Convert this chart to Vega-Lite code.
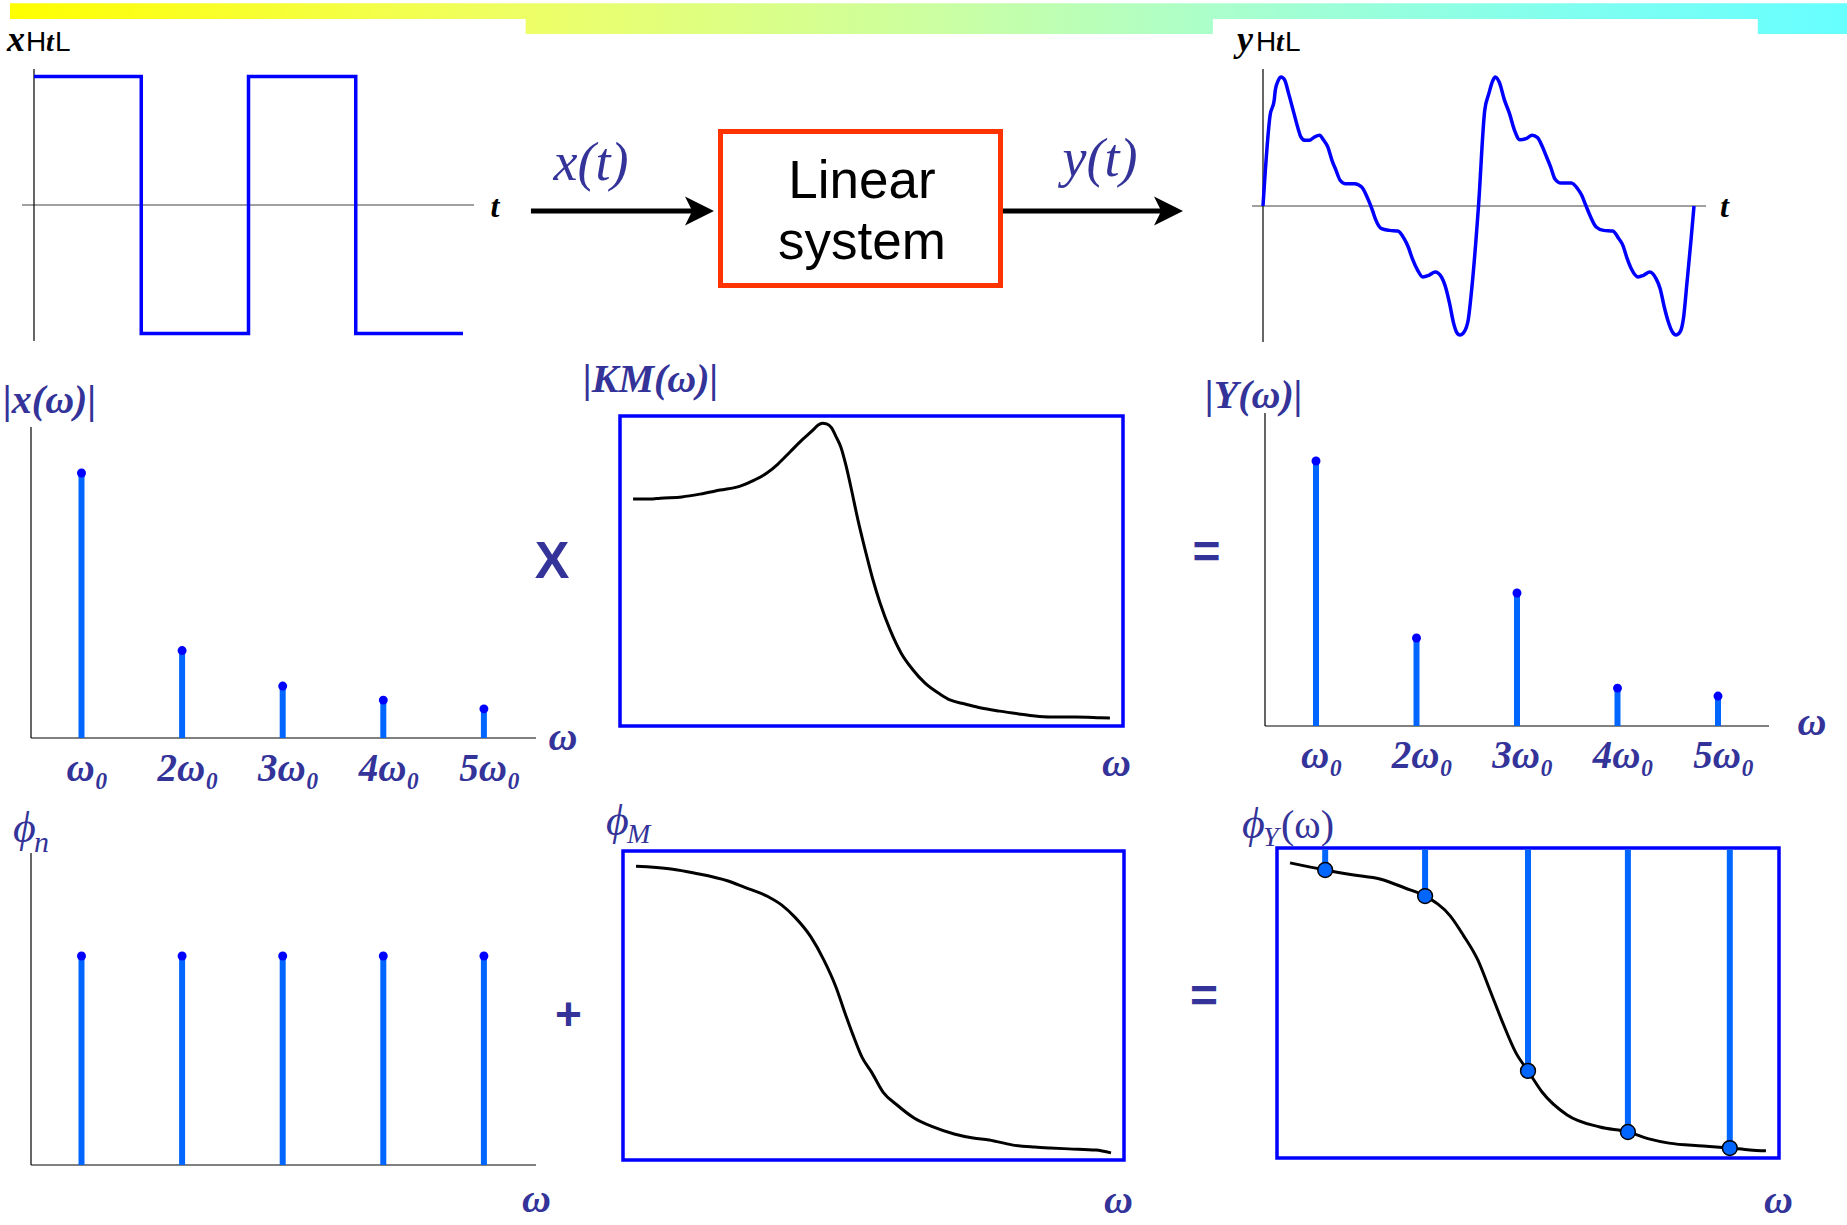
{
  "$schema": "https://vega.github.io/schema/vega-lite/v6.json",
  "width": 1847,
  "height": 1225,
  "autosize": {"type": "none"},
  "padding": 0,
  "background": "white",
  "config": {"view": {"stroke": null}, "axis": {"disable": true}, "legend": {"disable": true}},
  "resolve": {"scale": {"x": "independent", "y": "independent"}},
  "layer": [
    {
      "description": "header band",
      "data": {"values": [{"start": 0.0054, "end": 1}]},
      "layer": [
        {
          "mark": {"type": "rect", "fill": {"gradient": "linear", "x1": 0, "y1": 0, "x2": 1, "y2": 0, "stops": [
            {"offset": 0, "color": "#ffff00"}, {"offset": 0.28, "color": "#eeff66"}, {"offset": 0.5, "color": "#ccffa0"},
            {"offset": 0.66, "color": "#aaffcc"}, {"offset": 0.85, "color": "#80fff0"}, {"offset": 1, "color": "#66ffff"}]}},
          "encoding": {
            "x": {"field": "start", "type": "quantitative", "scale": {"domain": [0, 1], "nice": false, "zero": false}},
            "x2": {"field": "end"},
            "y": {"datum": 0, "type": "quantitative", "scale": {"domain": [-38.795, 1.1075], "nice": false, "zero": false}},
            "y2": {"datum": 1}
          }
        },
        {
          "data": {"values": [{"start": 0.0054, "end": 0.2846}, {"start": 0.6567, "end": 0.9517}]},
          "mark": {"type": "rect", "fill": "#ffffff"},
          "encoding": {
            "x": {"field": "start", "type": "quantitative", "scale": {"domain": [0, 1], "nice": false, "zero": false}},
            "x2": {"field": "end"},
            "y": {"datum": -0.05, "type": "quantitative", "scale": {"domain": [-38.795, 1.1075], "nice": false, "zero": false}},
            "y2": {"datum": 0.4886}
          }
        }
      ]
    },
    {
      "description": "input square wave x(t)",
      "layer": [
        {
          "data": {"values": [{}]},
          "mark": {"type": "rule", "color": "#808080", "strokeWidth": 1.5},
          "encoding": {
            "x": {"datum": -0.112, "type": "quantitative", "scale": {"domain": [-0.31702, 16.9044], "nice": false, "zero": false}},
            "x2": {"datum": 4.103},
            "y": {"datum": 0, "type": "quantitative", "scale": {"domain": [-7.9377, 1.5953], "nice": false, "zero": false}}
          }
        },
        {
          "data": {"values": [{}]},
          "mark": {"type": "rule", "color": "#000000", "strokeWidth": 1.2},
          "encoding": {
            "x": {"datum": 0, "type": "quantitative", "scale": {"domain": [-0.31702, 16.9044], "nice": false, "zero": false}},
            "y": {"datum": -1.058, "type": "quantitative", "scale": {"domain": [-7.9377, 1.5953], "nice": false, "zero": false}},
            "y2": {"datum": 1.058}
          }
        },
        {
          "data": {"values": [{"t": 0, "x": 1}, {"t": 1, "x": -1}, {"t": 2, "x": 1}, {"t": 3, "x": -1}, {"t": 4, "x": -1}]},
          "mark": {"type": "line", "interpolate": "step-after", "color": "#0000ff", "strokeWidth": 3.5, "strokeJoin": "miter"},
          "encoding": {
            "x": {"field": "t", "type": "quantitative", "scale": {"domain": [-0.31702, 16.9044], "nice": false, "zero": false}},
            "y": {"field": "x", "type": "quantitative", "scale": {"domain": [-7.9377, 1.5953], "nice": false, "zero": false}}
          }
        },
        {
          "data": {"values": [{}]},
          "mark": {"type": "text", "text": "t", "font": "Liberation Serif", "fontStyle": "italic", "fontWeight": "bold", "fontSize": 32, "color": "#000000", "align": "center", "baseline": "alphabetic"},
          "encoding": {
            "x": {"datum": 4.298, "type": "quantitative", "scale": {"domain": [-0.31702, 16.9044], "nice": false, "zero": false}},
            "y": {"datum": -0.0934, "type": "quantitative", "scale": {"domain": [-7.9377, 1.5953], "nice": false, "zero": false}}
          }
        },
        {
          "data": {"values": [{}]},
          "layer": [
            {"mark": {"type": "text", "text": "x", "font": "Liberation Serif", "fontStyle": "italic", "fontWeight": "bold", "fontSize": 36, "color": "#000000", "align": "left", "baseline": "alphabetic"}},
            {"mark": {"type": "text", "text": "H", "font": "Liberation Sans", "fontSize": 28, "color": "#000000", "align": "left", "baseline": "alphabetic", "dx": 19}},
            {"mark": {"type": "text", "text": "t", "font": "Liberation Serif", "fontStyle": "italic", "fontWeight": "bold", "fontSize": 28, "color": "#000000", "align": "left", "baseline": "alphabetic", "dx": 39}},
            {"mark": {"type": "text", "text": "L", "font": "Liberation Sans", "fontSize": 28, "color": "#000000", "align": "left", "baseline": "alphabetic", "dx": 48}}
          ],
          "encoding": {
            "x": {"datum": -0.2517, "type": "quantitative", "scale": {"domain": [-0.31702, 16.9044], "nice": false, "zero": false}},
            "y": {"datum": 1.1984, "type": "quantitative", "scale": {"domain": [-7.9377, 1.5953], "nice": false, "zero": false}}
          }
        }
      ]
    },
    {
      "description": "block diagram",
      "layer": [
        {
          "data": {"values": [{}]},
          "mark": {"type": "rect", "fill": "#ffffff", "stroke": "#ff3300", "strokeWidth": 5},
          "encoding": {
            "x": {"datum": 0, "type": "quantitative", "scale": {"domain": [-2.5732, 4.0232], "nice": false, "zero": false}},
            "x2": {"datum": 1},
            "y": {"datum": 0, "type": "quantitative", "scale": {"domain": [-6.1006, 1.8539], "nice": false, "zero": false}},
            "y2": {"datum": 1}
          }
        },
        {
          "data": {"values": [{"signal": "x(t)", "from": -0.677, "to": -0.075}, {"signal": "y(t)", "from": 1.009, "to": 1.6}]},
          "layer": [
            {
              "mark": {"type": "rule", "color": "#000000", "strokeWidth": 5},
              "encoding": {
                "x": {"field": "from", "type": "quantitative", "scale": {"domain": [-2.5732, 4.0232], "nice": false, "zero": false}},
                "x2": {"field": "to"},
                "y": {"datum": 0.484, "type": "quantitative", "scale": {"domain": [-6.1006, 1.8539], "nice": false, "zero": false}}
              }
            },
            {
              "mark": {"type": "point", "shape": "M1,0L-1,-1L-0.5,0L-1,1Z", "filled": true, "color": "#000000", "opacity": 1, "size": 841},
              "encoding": {
                "x": {"field": "to", "type": "quantitative", "scale": {"domain": [-2.5732, 4.0232], "nice": false, "zero": false}},
                "y": {"datum": 0.484, "type": "quantitative", "scale": {"domain": [-6.1006, 1.8539], "nice": false, "zero": false}}
              }
            }
          ]
        },
        {
          "data": {"values": [{}]},
          "mark": {"type": "text", "text": "x(t)", "font": "Liberation Serif", "fontStyle": "italic", "fontSize": 54, "color": "#333399", "align": "center", "baseline": "alphabetic"},
          "encoding": {
            "x": {"datum": -0.4625, "type": "quantitative", "scale": {"domain": [-2.5732, 4.0232], "nice": false, "zero": false}},
            "y": {"datum": 0.6851, "type": "quantitative", "scale": {"domain": [-6.1006, 1.8539], "nice": false, "zero": false}}
          }
        },
        {
          "data": {"values": [{}]},
          "mark": {"type": "text", "text": "y(t)", "font": "Liberation Serif", "fontStyle": "italic", "fontSize": 54, "color": "#333399", "align": "center", "baseline": "alphabetic"},
          "encoding": {
            "x": {"datum": 1.3554, "type": "quantitative", "scale": {"domain": [-2.5732, 4.0232], "nice": false, "zero": false}},
            "y": {"datum": 0.711, "type": "quantitative", "scale": {"domain": [-6.1006, 1.8539], "nice": false, "zero": false}}
          }
        },
        {
          "data": {"values": [{}]},
          "mark": {"type": "text", "text": "Linear", "font": "Liberation Sans", "fontSize": 53, "color": "#000000", "align": "center", "baseline": "alphabetic"},
          "encoding": {
            "x": {"datum": 0.5054, "type": "quantitative", "scale": {"domain": [-2.5732, 4.0232], "nice": false, "zero": false}},
            "y": {"datum": 0.568, "type": "quantitative", "scale": {"domain": [-6.1006, 1.8539], "nice": false, "zero": false}}
          }
        },
        {
          "data": {"values": [{}]},
          "mark": {"type": "text", "text": "system", "font": "Liberation Sans", "fontSize": 53, "color": "#000000", "align": "center", "baseline": "alphabetic"},
          "encoding": {
            "x": {"datum": 0.5054, "type": "quantitative", "scale": {"domain": [-2.5732, 4.0232], "nice": false, "zero": false}},
            "y": {"datum": 0.172, "type": "quantitative", "scale": {"domain": [-6.1006, 1.8539], "nice": false, "zero": false}}
          }
        }
      ]
    },
    {
      "description": "output y(t)",
      "layer": [
        {
          "data": {"values": [{}]},
          "mark": {"type": "rule", "color": "#808080", "strokeWidth": 1.5},
          "encoding": {
            "x": {"datum": -0.051, "type": "quantitative", "scale": {"domain": [-5.8608, 2.71], "nice": false, "zero": false}},
            "x2": {"datum": 2.0557},
            "y": {"datum": 0, "type": "quantitative", "scale": {"domain": [-7.8992, 1.5969], "nice": false, "zero": false}}
          }
        },
        {
          "data": {"values": [{}]},
          "mark": {"type": "rule", "color": "#000000", "strokeWidth": 1.2},
          "encoding": {
            "x": {"datum": 0, "type": "quantitative", "scale": {"domain": [-5.8608, 2.71], "nice": false, "zero": false}},
            "y": {"datum": -1.054, "type": "quantitative", "scale": {"domain": [-7.8992, 1.5969], "nice": false, "zero": false}},
            "y2": {"datum": 1.062}
          }
        },
        {
          "data": {"values": [
            {"t": 0, "y": 0}, {"t": 0.033, "y": 0.703}, {"t": 0.052, "y": 0.819}, {"t": 0.057, "y": 0.897}, {"t": 0.071, "y": 0.974},
            {"t": 0.084, "y": 1.0}, {"t": 0.1, "y": 0.979}, {"t": 0.119, "y": 0.871}, {"t": 0.144, "y": 0.716}, {"t": 0.163, "y": 0.599},
            {"t": 0.176, "y": 0.535}, {"t": 0.195, "y": 0.509}, {"t": 0.215, "y": 0.509}, {"t": 0.239, "y": 0.535}, {"t": 0.262, "y": 0.548},
            {"t": 0.282, "y": 0.509}, {"t": 0.301, "y": 0.457}, {"t": 0.32, "y": 0.354}, {"t": 0.339, "y": 0.276}, {"t": 0.358, "y": 0.199},
            {"t": 0.381, "y": 0.173}, {"t": 0.425, "y": 0.173}, {"t": 0.458, "y": 0.147}, {"t": 0.483, "y": 0.07}, {"t": 0.508, "y": -0.034},
            {"t": 0.521, "y": -0.098}, {"t": 0.55, "y": -0.176}, {"t": 0.588, "y": -0.189}, {"t": 0.626, "y": -0.194}, {"t": 0.655, "y": -0.253},
            {"t": 0.674, "y": -0.318}, {"t": 0.693, "y": -0.408}, {"t": 0.718, "y": -0.499}, {"t": 0.741, "y": -0.55}, {"t": 0.77, "y": -0.537},
            {"t": 0.799, "y": -0.512}, {"t": 0.828, "y": -0.55}, {"t": 0.847, "y": -0.628}, {"t": 0.866, "y": -0.757}, {"t": 0.885, "y": -0.912},
            {"t": 0.898, "y": -0.977}, {"t": 0.914, "y": -1.0}, {"t": 0.933, "y": -0.977}, {"t": 0.952, "y": -0.886}, {"t": 0.971, "y": -0.602},
            {"t": 1.0, "y": 0}, {"t": 1.029, "y": 0.742}, {"t": 1.048, "y": 0.871}, {"t": 1.067, "y": 0.974}, {"t": 1.078, "y": 1.0},
            {"t": 1.096, "y": 0.961}, {"t": 1.121, "y": 0.819}, {"t": 1.144, "y": 0.716}, {"t": 1.167, "y": 0.587}, {"t": 1.192, "y": 0.514},
            {"t": 1.22, "y": 0.522}, {"t": 1.249, "y": 0.548}, {"t": 1.274, "y": 0.53}, {"t": 1.297, "y": 0.457}, {"t": 1.316, "y": 0.38},
            {"t": 1.335, "y": 0.302}, {"t": 1.354, "y": 0.212}, {"t": 1.383, "y": 0.178}, {"t": 1.431, "y": 0.178}, {"t": 1.46, "y": 0.134},
            {"t": 1.479, "y": 0.083}, {"t": 1.498, "y": 0.005}, {"t": 1.517, "y": -0.072}, {"t": 1.546, "y": -0.163}, {"t": 1.58, "y": -0.189},
            {"t": 1.623, "y": -0.194}, {"t": 1.651, "y": -0.253}, {"t": 1.67, "y": -0.305}, {"t": 1.69, "y": -0.408}, {"t": 1.709, "y": -0.486},
            {"t": 1.741, "y": -0.55}, {"t": 1.766, "y": -0.537}, {"t": 1.795, "y": -0.512}, {"t": 1.824, "y": -0.563}, {"t": 1.843, "y": -0.641},
            {"t": 1.862, "y": -0.783}, {"t": 1.881, "y": -0.899}, {"t": 1.9, "y": -0.977}, {"t": 1.916, "y": -1.0}, {"t": 1.935, "y": -0.977},
            {"t": 1.952, "y": -0.86}, {"t": 1.967, "y": -0.602}, {"t": 1.986, "y": -0.266}, {"t": 2.0, "y": 0}
          ]},
          "mark": {"type": "line", "interpolate": "monotone", "color": "#0000ff", "strokeWidth": 3.5, "strokeJoin": "round"},
          "encoding": {
            "x": {"field": "t", "type": "quantitative", "scale": {"domain": [-5.8608, 2.71], "nice": false, "zero": false}},
            "y": {"field": "y", "type": "quantitative", "scale": {"domain": [-7.8992, 1.5969], "nice": false, "zero": false}}
          }
        },
        {
          "data": {"values": [{}]},
          "mark": {"type": "text", "text": "t", "font": "Liberation Serif", "fontStyle": "italic", "fontWeight": "bold", "fontSize": 32, "color": "#000000", "align": "center", "baseline": "alphabetic"},
          "encoding": {
            "x": {"datum": 2.1415, "type": "quantitative", "scale": {"domain": [-5.8608, 2.71], "nice": false, "zero": false}},
            "y": {"datum": -0.0853, "type": "quantitative", "scale": {"domain": [-7.8992, 1.5969], "nice": false, "zero": false}}
          }
        },
        {
          "data": {"values": [{}]},
          "layer": [
            {"mark": {"type": "text", "text": "y", "font": "Liberation Serif", "fontStyle": "italic", "fontWeight": "bold", "fontSize": 36, "color": "#000000", "align": "left", "baseline": "alphabetic"}},
            {"mark": {"type": "text", "text": "H", "font": "Liberation Sans", "fontSize": 28, "color": "#000000", "align": "left", "baseline": "alphabetic", "dx": 19}},
            {"mark": {"type": "text", "text": "t", "font": "Liberation Serif", "fontStyle": "italic", "fontWeight": "bold", "fontSize": 28, "color": "#000000", "align": "left", "baseline": "alphabetic", "dx": 39}},
            {"mark": {"type": "text", "text": "L", "font": "Liberation Sans", "fontSize": 28, "color": "#000000", "align": "left", "baseline": "alphabetic", "dx": 48}}
          ],
          "encoding": {
            "x": {"datum": -0.1206, "type": "quantitative", "scale": {"domain": [-5.8608, 2.71], "nice": false, "zero": false}},
            "y": {"datum": 1.2016, "type": "quantitative", "scale": {"domain": [-7.8992, 1.5969], "nice": false, "zero": false}}
          }
        }
      ]
    },
    {
      "description": "input amplitude spectrum |x(w)|",
      "layer": [
        {
          "data": {"values": [{}]},
          "mark": {"type": "rule", "color": "#808080", "strokeWidth": 2},
          "encoding": {
            "x": {"datum": 0.498, "type": "quantitative", "scale": {"domain": [0.18986, 18.5497], "nice": false, "zero": false}},
            "x2": {"datum": 5.518},
            "y": {"datum": 0, "type": "quantitative", "scale": {"domain": [-1.8377, 2.7849], "nice": false, "zero": false}}
          }
        },
        {
          "data": {"values": [{}]},
          "mark": {"type": "rule", "color": "#000000", "strokeWidth": 1.2},
          "encoding": {
            "x": {"datum": 0.498, "type": "quantitative", "scale": {"domain": [0.18986, 18.5497], "nice": false, "zero": false}},
            "y": {"datum": 0, "type": "quantitative", "scale": {"domain": [-1.8377, 2.7849], "nice": false, "zero": false}},
            "y2": {"datum": 1.1736}
          }
        },
        {
          "data": {"values": [
            {"n": 1, "label": "ω₀", "amp": 1.0}, {"n": 2, "label": "2ω₀", "amp": 0.33}, {"n": 3, "label": "3ω₀", "amp": 0.196},
            {"n": 4, "label": "4ω₀", "amp": 0.143}, {"n": 5, "label": "5ω₀", "amp": 0.11}
          ]},
          "layer": [
            {
              "mark": {"type": "rule", "color": "#0066ff", "strokeWidth": 6},
              "encoding": {
                "x": {"field": "n", "type": "quantitative", "scale": {"domain": [0.18986, 18.5497], "nice": false, "zero": false}},
                "y": {"field": "amp", "type": "quantitative", "scale": {"domain": [-1.8377, 2.7849], "nice": false, "zero": false}},
                "y2": {"datum": 0}
              }
            },
            {
              "mark": {"type": "point", "shape": "circle", "filled": true, "color": "#0000ff", "opacity": 1, "size": 80},
              "encoding": {
                "x": {"field": "n", "type": "quantitative", "scale": {"domain": [0.18986, 18.5497], "nice": false, "zero": false}},
                "y": {"field": "amp", "type": "quantitative", "scale": {"domain": [-1.8377, 2.7849], "nice": false, "zero": false}}
              }
            },
            {
              "mark": {"type": "text", "font": "Liberation Serif", "fontStyle": "italic", "fontWeight": "bold", "fontSize": 39, "color": "#333399", "align": "center", "baseline": "alphabetic", "dx": 6},
              "encoding": {
                "x": {"field": "n", "type": "quantitative", "scale": {"domain": [0.18986, 18.5497], "nice": false, "zero": false}},
                "y": {"datum": -0.162, "type": "quantitative", "scale": {"domain": [-1.8377, 2.7849], "nice": false, "zero": false}},
                "text": {"field": "label"}
              }
            }
          ]
        },
        {
          "data": {"values": [{}]},
          "mark": {"type": "text", "text": "ω", "font": "Liberation Serif", "fontStyle": "italic", "fontWeight": "bold", "fontSize": 40, "color": "#333399", "align": "center", "baseline": "alphabetic"},
          "encoding": {
            "x": {"datum": 5.786, "type": "quantitative", "scale": {"domain": [0.18986, 18.5497], "nice": false, "zero": false}},
            "y": {"datum": -0.0453, "type": "quantitative", "scale": {"domain": [-1.8377, 2.7849], "nice": false, "zero": false}}
          }
        },
        {
          "data": {"values": [{}]},
          "mark": {"type": "text", "text": "|x(ω)|", "font": "Liberation Serif", "fontStyle": "italic", "fontWeight": "bold", "fontSize": 40, "color": "#333399", "align": "left", "baseline": "alphabetic"},
          "encoding": {
            "x": {"datum": 0.2197, "type": "quantitative", "scale": {"domain": [0.18986, 18.5497], "nice": false, "zero": false}},
            "y": {"datum": 1.2264, "type": "quantitative", "scale": {"domain": [-1.8377, 2.7849], "nice": false, "zero": false}}
          }
        },
        {
          "data": {"values": [{}]},
          "mark": {"type": "text", "text": "X", "font": "Liberation Sans", "fontWeight": "bold", "fontSize": 52, "color": "#333399", "align": "center", "baseline": "alphabetic"},
          "encoding": {
            "x": {"datum": 5.677, "type": "quantitative", "scale": {"domain": [0.18986, 18.5497], "nice": false, "zero": false}},
            "y": {"datum": 0.6038, "type": "quantitative", "scale": {"domain": [-1.8377, 2.7849], "nice": false, "zero": false}}
          }
        }
      ]
    },
    {
      "description": "system magnitude |KM(w)|",
      "layer": [
        {
          "data": {"values": [{}]},
          "mark": {"type": "rect", "fill": null, "stroke": "#0000ff", "strokeWidth": 3.5},
          "encoding": {
            "x": {"datum": 0, "type": "quantitative", "scale": {"domain": [-1.2326, 2.43936], "nice": false, "zero": false}},
            "x2": {"datum": 1},
            "y": {"datum": 0, "type": "quantitative", "scale": {"domain": [-1.60968, 2.34194], "nice": false, "zero": false}},
            "y2": {"datum": 1}
          }
        },
        {
          "data": {"values": [
            {"w": 0.026, "m": 0.732}, {"w": 0.06, "m": 0.732}, {"w": 0.08, "m": 0.735}, {"w": 0.123, "m": 0.739}, {"w": 0.159, "m": 0.748},
            {"w": 0.199, "m": 0.761}, {"w": 0.239, "m": 0.774}, {"w": 0.268, "m": 0.794}, {"w": 0.292, "m": 0.816}, {"w": 0.314, "m": 0.845},
            {"w": 0.338, "m": 0.884}, {"w": 0.362, "m": 0.923}, {"w": 0.384, "m": 0.955}, {"w": 0.394, "m": 0.971}, {"w": 0.402, "m": 0.977},
            {"w": 0.412, "m": 0.974}, {"w": 0.421, "m": 0.961}, {"w": 0.429, "m": 0.935}, {"w": 0.439, "m": 0.9}, {"w": 0.449, "m": 0.842},
            {"w": 0.459, "m": 0.771}, {"w": 0.473, "m": 0.665}, {"w": 0.489, "m": 0.558}, {"w": 0.503, "m": 0.471}, {"w": 0.517, "m": 0.397},
            {"w": 0.537, "m": 0.31}, {"w": 0.559, "m": 0.235}, {"w": 0.581, "m": 0.184}, {"w": 0.606, "m": 0.139}, {"w": 0.636, "m": 0.103},
            {"w": 0.656, "m": 0.084}, {"w": 0.686, "m": 0.071}, {"w": 0.718, "m": 0.058}, {"w": 0.755, "m": 0.048}, {"w": 0.793, "m": 0.039},
            {"w": 0.825, "m": 0.032}, {"w": 0.855, "m": 0.029}, {"w": 0.905, "m": 0.029}, {"w": 0.954, "m": 0.027}, {"w": 0.974, "m": 0.026}
          ]},
          "mark": {"type": "line", "interpolate": "monotone", "color": "#000000", "strokeWidth": 3},
          "encoding": {
            "x": {"field": "w", "type": "quantitative", "scale": {"domain": [-1.2326, 2.43936], "nice": false, "zero": false}},
            "y": {"field": "m", "type": "quantitative", "scale": {"domain": [-1.60968, 2.34194], "nice": false, "zero": false}}
          }
        },
        {
          "data": {"values": [{}]},
          "mark": {"type": "text", "text": "|KM(ω)|", "font": "Liberation Serif", "fontStyle": "italic", "fontWeight": "bold", "fontSize": 40, "color": "#333399", "align": "left", "baseline": "alphabetic"},
          "encoding": {
            "x": {"datum": -0.0736, "type": "quantitative", "scale": {"domain": [-1.2326, 2.43936], "nice": false, "zero": false}},
            "y": {"datum": 1.0774, "type": "quantitative", "scale": {"domain": [-1.60968, 2.34194], "nice": false, "zero": false}}
          }
        },
        {
          "data": {"values": [{}]},
          "mark": {"type": "text", "text": "ω", "font": "Liberation Serif", "fontStyle": "italic", "fontWeight": "bold", "fontSize": 40, "color": "#333399", "align": "center", "baseline": "alphabetic"},
          "encoding": {
            "x": {"datum": 0.987, "type": "quantitative", "scale": {"domain": [-1.2326, 2.43936], "nice": false, "zero": false}},
            "y": {"datum": -0.1613, "type": "quantitative", "scale": {"domain": [-1.60968, 2.34194], "nice": false, "zero": false}}
          }
        }
      ]
    },
    {
      "description": "output amplitude spectrum |Y(w)|",
      "layer": [
        {
          "data": {"values": [{}]},
          "mark": {"type": "rule", "color": "#808080", "strokeWidth": 2},
          "encoding": {
            "x": {"datum": 0.4925, "type": "quantitative", "scale": {"domain": [-12.0945, 6.2836], "nice": false, "zero": false}},
            "x2": {"datum": 5.5075},
            "y": {"datum": 0, "type": "quantitative", "scale": {"domain": [-1.883, 2.7396], "nice": false, "zero": false}}
          }
        },
        {
          "data": {"values": [{}]},
          "mark": {"type": "rule", "color": "#000000", "strokeWidth": 1.2},
          "encoding": {
            "x": {"datum": 0.4925, "type": "quantitative", "scale": {"domain": [-12.0945, 6.2836], "nice": false, "zero": false}},
            "y": {"datum": 0, "type": "quantitative", "scale": {"domain": [-1.883, 2.7396], "nice": false, "zero": false}},
            "y2": {"datum": 1.181}
          }
        },
        {
          "data": {"values": [
            {"n": 1, "label": "ω₀", "amp": 1.0}, {"n": 2, "label": "2ω₀", "amp": 0.332}, {"n": 3, "label": "3ω₀", "amp": 0.502},
            {"n": 4, "label": "4ω₀", "amp": 0.143}, {"n": 5, "label": "5ω₀", "amp": 0.113}
          ]},
          "layer": [
            {
              "mark": {"type": "rule", "color": "#0066ff", "strokeWidth": 6},
              "encoding": {
                "x": {"field": "n", "type": "quantitative", "scale": {"domain": [-12.0945, 6.2836], "nice": false, "zero": false}},
                "y": {"field": "amp", "type": "quantitative", "scale": {"domain": [-1.883, 2.7396], "nice": false, "zero": false}},
                "y2": {"datum": 0}
              }
            },
            {
              "mark": {"type": "point", "shape": "circle", "filled": true, "color": "#0000ff", "opacity": 1, "size": 80},
              "encoding": {
                "x": {"field": "n", "type": "quantitative", "scale": {"domain": [-12.0945, 6.2836], "nice": false, "zero": false}},
                "y": {"field": "amp", "type": "quantitative", "scale": {"domain": [-1.883, 2.7396], "nice": false, "zero": false}}
              }
            },
            {
              "mark": {"type": "text", "font": "Liberation Serif", "fontStyle": "italic", "fontWeight": "bold", "fontSize": 39, "color": "#333399", "align": "center", "baseline": "alphabetic", "dx": 6},
              "encoding": {
                "x": {"field": "n", "type": "quantitative", "scale": {"domain": [-12.0945, 6.2836], "nice": false, "zero": false}},
                "y": {"datum": -0.16, "type": "quantitative", "scale": {"domain": [-1.883, 2.7396], "nice": false, "zero": false}},
                "text": {"field": "label"}
              }
            }
          ]
        },
        {
          "data": {"values": [{}]},
          "mark": {"type": "text", "text": "ω", "font": "Liberation Serif", "fontStyle": "italic", "fontWeight": "bold", "fontSize": 40, "color": "#333399", "align": "center", "baseline": "alphabetic"},
          "encoding": {
            "x": {"datum": 5.935, "type": "quantitative", "scale": {"domain": [-12.0945, 6.2836], "nice": false, "zero": false}},
            "y": {"datum": -0.034, "type": "quantitative", "scale": {"domain": [-1.883, 2.7396], "nice": false, "zero": false}}
          }
        },
        {
          "data": {"values": [{}]},
          "mark": {"type": "text", "text": "|Y(ω)|", "font": "Liberation Serif", "fontStyle": "italic", "fontWeight": "bold", "fontSize": 40, "color": "#333399", "align": "left", "baseline": "alphabetic"},
          "encoding": {
            "x": {"datum": -0.1045, "type": "quantitative", "scale": {"domain": [-12.0945, 6.2836], "nice": false, "zero": false}},
            "y": {"datum": 1.2, "type": "quantitative", "scale": {"domain": [-1.883, 2.7396], "nice": false, "zero": false}}
          }
        },
        {
          "data": {"values": [{}]},
          "mark": {"type": "text", "text": "=", "font": "Liberation Sans", "fontWeight": "bold", "fontSize": 48, "color": "#333399", "align": "center", "baseline": "middle"},
          "encoding": {
            "x": {"datum": -0.0896, "type": "quantitative", "scale": {"domain": [-12.0945, 6.2836], "nice": false, "zero": false}},
            "y": {"datum": 0.649, "type": "quantitative", "scale": {"domain": [-1.883, 2.7396], "nice": false, "zero": false}}
          }
        }
      ]
    },
    {
      "description": "input phase spectrum",
      "layer": [
        {
          "data": {"values": [{}]},
          "mark": {"type": "rule", "color": "#808080", "strokeWidth": 2},
          "encoding": {
            "x": {"datum": 0.498, "type": "quantitative", "scale": {"domain": [0.18986, 18.5497], "nice": false, "zero": false}},
            "x2": {"datum": 5.518},
            "y": {"datum": 0, "type": "quantitative", "scale": {"domain": [-0.28708, 5.57416], "nice": false, "zero": false}}
          }
        },
        {
          "data": {"values": [{}]},
          "mark": {"type": "rule", "color": "#000000", "strokeWidth": 1.2},
          "encoding": {
            "x": {"datum": 0.498, "type": "quantitative", "scale": {"domain": [0.18986, 18.5497], "nice": false, "zero": false}},
            "y": {"datum": 0, "type": "quantitative", "scale": {"domain": [-0.28708, 5.57416], "nice": false, "zero": false}},
            "y2": {"datum": 1.4928}
          }
        },
        {
          "data": {"values": [{"n": 1, "phase": 1}, {"n": 2, "phase": 1}, {"n": 3, "phase": 1}, {"n": 4, "phase": 1}, {"n": 5, "phase": 1}]},
          "layer": [
            {
              "mark": {"type": "rule", "color": "#0066ff", "strokeWidth": 6},
              "encoding": {
                "x": {"field": "n", "type": "quantitative", "scale": {"domain": [0.18986, 18.5497], "nice": false, "zero": false}},
                "y": {"field": "phase", "type": "quantitative", "scale": {"domain": [-0.28708, 5.57416], "nice": false, "zero": false}},
                "y2": {"datum": 0}
              }
            },
            {
              "mark": {"type": "point", "shape": "circle", "filled": true, "color": "#0000ff", "opacity": 1, "size": 80},
              "encoding": {
                "x": {"field": "n", "type": "quantitative", "scale": {"domain": [0.18986, 18.5497], "nice": false, "zero": false}},
                "y": {"field": "phase", "type": "quantitative", "scale": {"domain": [-0.28708, 5.57416], "nice": false, "zero": false}}
              }
            }
          ]
        },
        {
          "data": {"values": [{}]},
          "layer": [
            {"mark": {"type": "text", "text": "ϕ", "font": "Liberation Serif", "fontStyle": "italic", "fontSize": 44, "color": "#333399", "align": "left", "baseline": "alphabetic"}},
            {"mark": {"type": "text", "text": "n", "font": "Liberation Serif", "fontStyle": "italic", "fontSize": 30, "color": "#333399", "align": "left", "baseline": "alphabetic", "dx": 21, "dy": 10}}
          ],
          "encoding": {
            "x": {"datum": 0.319, "type": "quantitative", "scale": {"domain": [0.18986, 18.5497], "nice": false, "zero": false}},
            "y": {"datum": 1.5455, "type": "quantitative", "scale": {"domain": [-0.28708, 5.57416], "nice": false, "zero": false}}
          }
        },
        {
          "data": {"values": [{}]},
          "mark": {"type": "text", "text": "+", "font": "Liberation Sans", "fontWeight": "bold", "fontSize": 46, "color": "#333399", "align": "center", "baseline": "middle"},
          "encoding": {
            "x": {"datum": 5.841, "type": "quantitative", "scale": {"domain": [0.18986, 18.5497], "nice": false, "zero": false}},
            "y": {"datum": 0.713, "type": "quantitative", "scale": {"domain": [-0.28708, 5.57416], "nice": false, "zero": false}}
          }
        },
        {
          "data": {"values": [{}]},
          "mark": {"type": "text", "text": "ω", "font": "Liberation Serif", "fontStyle": "italic", "fontWeight": "bold", "fontSize": 40, "color": "#333399", "align": "center", "baseline": "alphabetic"},
          "encoding": {
            "x": {"datum": 5.523, "type": "quantitative", "scale": {"domain": [0.18986, 18.5497], "nice": false, "zero": false}},
            "y": {"datum": -0.225, "type": "quantitative", "scale": {"domain": [-0.28708, 5.57416], "nice": false, "zero": false}}
          }
        }
      ]
    },
    {
      "description": "system phase",
      "layer": [
        {
          "data": {"values": [{}]},
          "mark": {"type": "rect", "fill": null, "stroke": "#0000ff", "strokeWidth": 3.5},
          "encoding": {
            "x": {"datum": 0, "type": "quantitative", "scale": {"domain": [-1.24351, 2.44311], "nice": false, "zero": false}},
            "x2": {"datum": 1},
            "y": {"datum": 0, "type": "quantitative", "scale": {"domain": [-0.21036, 3.75405], "nice": false, "zero": false}},
            "y2": {"datum": 1}
          }
        },
        {
          "data": {"values": [
            {"w": 0.026, "p": 0.951}, {"w": 0.096, "p": 0.942}, {"w": 0.142, "p": 0.929}, {"w": 0.21, "p": 0.903}, {"w": 0.242, "p": 0.883},
            {"w": 0.291, "p": 0.851}, {"w": 0.317, "p": 0.825}, {"w": 0.343, "p": 0.786}, {"w": 0.375, "p": 0.722}, {"w": 0.401, "p": 0.647},
            {"w": 0.425, "p": 0.56}, {"w": 0.443, "p": 0.476}, {"w": 0.459, "p": 0.405}, {"w": 0.477, "p": 0.333}, {"w": 0.497, "p": 0.282},
            {"w": 0.519, "p": 0.22}, {"w": 0.547, "p": 0.178}, {"w": 0.581, "p": 0.136}, {"w": 0.619, "p": 0.107}, {"w": 0.661, "p": 0.084},
            {"w": 0.699, "p": 0.071}, {"w": 0.731, "p": 0.065}, {"w": 0.776, "p": 0.049}, {"w": 0.822, "p": 0.042}, {"w": 0.852, "p": 0.039},
            {"w": 0.89, "p": 0.036}, {"w": 0.944, "p": 0.032}, {"w": 0.974, "p": 0.023}
          ]},
          "mark": {"type": "line", "interpolate": "monotone", "color": "#000000", "strokeWidth": 3},
          "encoding": {
            "x": {"field": "w", "type": "quantitative", "scale": {"domain": [-1.24351, 2.44311], "nice": false, "zero": false}},
            "y": {"field": "p", "type": "quantitative", "scale": {"domain": [-0.21036, 3.75405], "nice": false, "zero": false}}
          }
        },
        {
          "data": {"values": [{}]},
          "layer": [
            {"mark": {"type": "text", "text": "ϕ", "font": "Liberation Serif", "fontStyle": "italic", "fontSize": 44, "color": "#333399", "align": "left", "baseline": "alphabetic"}},
            {"mark": {"type": "text", "text": "M", "font": "Liberation Serif", "fontStyle": "italic", "fontSize": 28, "color": "#333399", "align": "left", "baseline": "alphabetic", "dx": 21, "dy": 8}}
          ],
          "encoding": {
            "x": {"datum": -0.0339, "type": "quantitative", "scale": {"domain": [-1.24351, 2.44311], "nice": false, "zero": false}},
            "y": {"datum": 1.0518, "type": "quantitative", "scale": {"domain": [-0.21036, 3.75405], "nice": false, "zero": false}}
          }
        },
        {
          "data": {"values": [{}]},
          "mark": {"type": "text", "text": "ω", "font": "Liberation Serif", "fontStyle": "italic", "fontWeight": "bold", "fontSize": 40, "color": "#333399", "align": "center", "baseline": "alphabetic"},
          "encoding": {
            "x": {"datum": 0.989, "type": "quantitative", "scale": {"domain": [-1.24351, 2.44311], "nice": false, "zero": false}},
            "y": {"datum": -0.172, "type": "quantitative", "scale": {"domain": [-0.21036, 3.75405], "nice": false, "zero": false}}
          }
        }
      ]
    },
    {
      "description": "output phase",
      "layer": [
        {
          "data": {"values": [{}]},
          "mark": {"type": "rect", "fill": null, "stroke": "#0000ff", "strokeWidth": 3.5},
          "encoding": {
            "x": {"datum": 0, "type": "quantitative", "scale": {"domain": [-2.54382, 1.13546], "nice": false, "zero": false}},
            "x2": {"datum": 1},
            "y": {"datum": 0, "type": "quantitative", "scale": {"domain": [-0.21613, 3.73548], "nice": false, "zero": false}},
            "y2": {"datum": 1}
          }
        },
        {
          "data": {"values": [
            {"w": 0.026, "p": 0.952}, {"w": 0.096, "p": 0.929}, {"w": 0.153, "p": 0.913}, {"w": 0.205, "p": 0.9}, {"w": 0.255, "p": 0.871},
            {"w": 0.295, "p": 0.845}, {"w": 0.345, "p": 0.781}, {"w": 0.371, "p": 0.719}, {"w": 0.4, "p": 0.639}, {"w": 0.424, "p": 0.542},
            {"w": 0.45, "p": 0.435}, {"w": 0.476, "p": 0.339}, {"w": 0.5, "p": 0.281}, {"w": 0.528, "p": 0.213}, {"w": 0.578, "p": 0.139},
            {"w": 0.643, "p": 0.1}, {"w": 0.699, "p": 0.084}, {"w": 0.743, "p": 0.061}, {"w": 0.781, "p": 0.048}, {"w": 0.849, "p": 0.039},
            {"w": 0.902, "p": 0.032}, {"w": 0.942, "p": 0.026}, {"w": 0.974, "p": 0.023}
          ]},
          "mark": {"type": "line", "interpolate": "monotone", "color": "#000000", "strokeWidth": 3},
          "encoding": {
            "x": {"field": "w", "type": "quantitative", "scale": {"domain": [-2.54382, 1.13546], "nice": false, "zero": false}},
            "y": {"field": "p", "type": "quantitative", "scale": {"domain": [-0.21613, 3.73548], "nice": false, "zero": false}}
          }
        },
        {
          "data": {"values": [
            {"n": 1, "w": 0.096, "p": 0.929}, {"n": 2, "w": 0.295, "p": 0.845}, {"n": 3, "w": 0.5, "p": 0.281},
            {"n": 4, "w": 0.699, "p": 0.084}, {"n": 5, "w": 0.902, "p": 0.032}
          ]},
          "layer": [
            {
              "mark": {"type": "rule", "color": "#0066ff", "strokeWidth": 6},
              "encoding": {
                "x": {"field": "w", "type": "quantitative", "scale": {"domain": [-2.54382, 1.13546], "nice": false, "zero": false}},
                "y": {"field": "p", "type": "quantitative", "scale": {"domain": [-0.21613, 3.73548], "nice": false, "zero": false}},
                "y2": {"datum": 0.995}
              }
            },
            {
              "mark": {"type": "point", "shape": "circle", "filled": true, "color": "#0066ff", "stroke": "#000000", "strokeWidth": 1.5, "opacity": 1, "size": 220},
              "encoding": {
                "x": {"field": "w", "type": "quantitative", "scale": {"domain": [-2.54382, 1.13546], "nice": false, "zero": false}},
                "y": {"field": "p", "type": "quantitative", "scale": {"domain": [-0.21613, 3.73548], "nice": false, "zero": false}}
              }
            }
          ]
        },
        {
          "data": {"values": [{}]},
          "layer": [
            {"mark": {"type": "text", "text": "ϕ", "font": "Liberation Serif", "fontStyle": "italic", "fontSize": 44, "color": "#333399", "align": "left", "baseline": "alphabetic"}},
            {"mark": {"type": "text", "text": "Y", "font": "Liberation Serif", "fontStyle": "italic", "fontSize": 28, "color": "#333399", "align": "left", "baseline": "alphabetic", "dx": 21, "dy": 8}},
            {"mark": {"type": "text", "text": "(ω)", "font": "Liberation Serif", "fontSize": 40, "color": "#333399", "align": "left", "baseline": "alphabetic", "dx": 39}}
          ],
          "encoding": {
            "x": {"datum": -0.0697, "type": "quantitative", "scale": {"domain": [-2.54382, 1.13546], "nice": false, "zero": false}},
            "y": {"datum": 1.0323, "type": "quantitative", "scale": {"domain": [-0.21613, 3.73548], "nice": false, "zero": false}}
          }
        },
        {
          "data": {"values": [{}]},
          "mark": {"type": "text", "text": "=", "font": "Liberation Sans", "fontWeight": "bold", "fontSize": 48, "color": "#333399", "align": "center", "baseline": "middle"},
          "encoding": {
            "x": {"datum": -0.1454, "type": "quantitative", "scale": {"domain": [-2.54382, 1.13546], "nice": false, "zero": false}},
            "y": {"datum": 0.516, "type": "quantitative", "scale": {"domain": [-0.21613, 3.73548], "nice": false, "zero": false}}
          }
        },
        {
          "data": {"values": [{}]},
          "mark": {"type": "text", "text": "ω", "font": "Liberation Serif", "fontStyle": "italic", "fontWeight": "bold", "fontSize": 40, "color": "#333399", "align": "center", "baseline": "alphabetic"},
          "encoding": {
            "x": {"datum": 0.999, "type": "quantitative", "scale": {"domain": [-2.54382, 1.13546], "nice": false, "zero": false}},
            "y": {"datum": -0.177, "type": "quantitative", "scale": {"domain": [-0.21613, 3.73548], "nice": false, "zero": false}}
          }
        }
      ]
    }
  ]
}
